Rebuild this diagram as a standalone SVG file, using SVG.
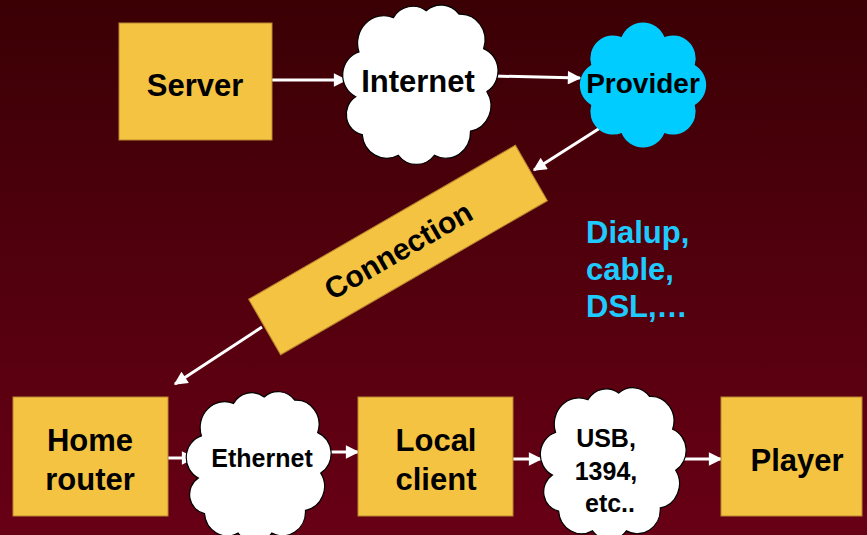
<svg xmlns="http://www.w3.org/2000/svg" width="867" height="535" viewBox="0 0 867 535">
<defs>
<linearGradient id="bg" x1="0" y1="0" x2="0" y2="1">
<stop offset="0" stop-color="#3a0004"/>
<stop offset="1" stop-color="#680015"/>
</linearGradient>
<marker id="ah" viewBox="0 0 10 10" refX="9" refY="5" markerWidth="5" markerHeight="4.5" orient="auto" markerUnits="strokeWidth">
<path d="M0,0 L10,5 L0,10 Z" fill="#ffffff"/>
</marker>
<path id="cloud" d="M 12,58 A 14,14 0 0 1 14,32 A 16,16 0 0 1 35,12 A 14,14 0 0 1 55,8 A 14,14 0 0 1 75,10 A 15,15 0 0 1 90,30 A 14,14 0 0 1 92,55 A 15,15 0 0 1 82,78 A 15,15 0 0 1 60,92 A 14,14 0 0 1 38,92 A 15,15 0 0 1 16,80 A 12,12 0 0 1 12,58 Z" fill="#ffffff" stroke="#000000" stroke-width="1.2" vector-effect="non-scaling-stroke"/>
</defs>
<style>
.box{fill:#f5c342;stroke:#b8862e;stroke-width:1}
.t{font-family:"Liberation Sans",Arial,sans-serif;font-weight:bold;fill:#000;text-anchor:middle}
.conn{stroke:#ffffff;stroke-width:3;fill:none;marker-end:url(#ah)}
</style>
<rect width="867" height="535" fill="url(#bg)"/>

<g id="connectors">
<line class="conn" x1="272" y1="80" x2="346" y2="80"/>
<line class="conn" x1="493" y1="76" x2="580" y2="78"/>
<line class="conn" x1="600" y1="128" x2="534" y2="170"/>
<line class="conn" x1="262" y1="327" x2="175" y2="384"/>
<line class="conn" x1="168" y1="458" x2="194" y2="458"/>
<line class="conn" x1="327" y1="452" x2="358" y2="452"/>
<line class="conn" x1="513" y1="459" x2="541" y2="459"/>
<line class="conn" x1="682" y1="459" x2="721" y2="459"/>
</g>

<g id="server">
<rect class="box" x="119" y="23" width="153" height="117"/>
<text class="t" x="195" y="96" font-size="31">Server</text>
</g>

<g id="internet">
<use href="#cloud" transform="translate(336,-3) scale(1.64,1.72)"/>
<text class="t" x="418" y="92" font-size="31">Internet</text>
</g>

<g id="provider">
<path d="M621.6,37 A23,23 0 0 1 664.4,37 A23,23 0 0 1 694.7,65.1 A23,23 0 0 1 694.7,104.9 A23,23 0 0 1 664.4,133 A23,23 0 0 1 621.6,133 A23,23 0 0 1 591.3,104.9 A23,23 0 0 1 591.3,65.1 A23,23 0 0 1 621.6,37 Z" fill="#00ccff"/>
<text class="t" x="643" y="93" font-size="28">Provider</text>
</g>

<g id="connection">
<rect class="box" x="244" y="218" width="308" height="64" transform="rotate(-30 398 250)"/>
<text class="t" x="398" y="261" font-size="30" transform="rotate(-30 398 250)">Connection</text>
</g>

<g id="dialup">
<text font-family="Liberation Sans,Arial,sans-serif" font-weight="bold" font-size="31" fill="#1ecbff">
<tspan x="586" y="243">Dialup,</tspan>
<tspan x="586" y="280">cable,</tspan>
<tspan x="586" y="317">DSL,…</tspan>
</text>
</g>

<g id="home-router">
<rect class="box" x="13" y="397" width="155" height="119"/>
<text class="t" font-size="31"><tspan x="90" y="451">Home</tspan><tspan x="90" y="490">router</tspan></text>
</g>

<g id="ethernet">
<use href="#cloud" transform="translate(180,384) scale(1.53,1.62)"/>
<text class="t" x="262" y="467" font-size="25">Ethernet</text>
</g>

<g id="local-client">
<rect class="box" x="358" y="397" width="155" height="119"/>
<text class="t" font-size="31"><tspan x="436" y="451">Local</tspan><tspan x="436" y="490">client</tspan></text>
</g>

<g id="usb">
<use href="#cloud" transform="translate(534,380) scale(1.54,1.64)"/>
<text class="t" font-size="25"><tspan x="606" y="447">USB,</tspan><tspan x="606" y="480">1394,</tspan><tspan x="610" y="512">etc..</tspan></text>
</g>

<g id="player">
<rect class="box" x="721" y="397" width="141" height="119"/>
<text class="t" x="797" y="471" font-size="31">Player</text>
</g>
</svg>
